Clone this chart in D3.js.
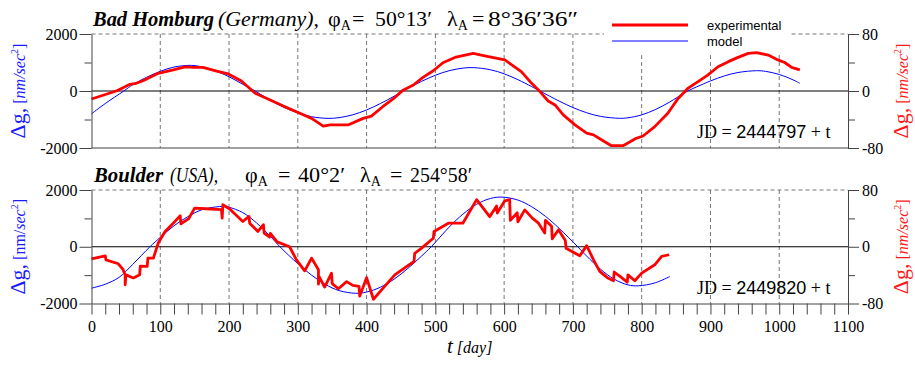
<!DOCTYPE html>
<html lang="en">
<head>
<meta charset="UTF-8">
<title>Gravity variations: Bad Homburg and Boulder</title>
<script src="https://cdn.jsdelivr.net/npm/d3@7"></script>
<style>
  body { margin: 0; background: #fff; }
  svg text { font-family: "Liberation Serif", "Times New Roman", serif; }
  .axis path, .axis line { stroke: #444; }
</style>
</head>
<body>
<script>
// ---- data ----
var xMajor = [0, 100, 200, 300, 400, 500, 600, 700, 800, 900, 1000, 1100];
var gridDays = [100, 200, 300, 400, 500, 600, 700, 800, 900, 1000];
var leftMajor = [-2000, 0, 2000];
var leftMinor = [-1000, 1000];
var rightMajor = [-80, 0, 80];
var rightMinor = [-40, 40];

// Bad Homburg, [day, nm/sec^2]
var homburgExp = [[0,-280],[18,-140],[37,10],[56,235],[65,270],[75,360],[97,620],[119,740],[136,850],[148,830],
  [162,830],[182,700],[199,600],[218,350],[238,-80],[255,-260],[279,-530],[303,-780],[320,-960],[337,-1230],
  [347,-1190],[373,-1190],[395,-960],[407,-880],[423,-560],[439,-270],[453,30],[468,210],[482,480],[497,710],
  [511,990],[530,1190],[555,1320],[577,1210],[601,1090],[625,680],[640,270],[652,-20],[664,-350],[674,-490],
  [686,-840],[703,-1190],[720,-1480],[730,-1540],[742,-1720],[756,-1920],[773,-1920],[792,-1660],[802,-1580],
  [819,-1250],[838,-780],[853,-260],[867,90],[882,330],[896,560],[911,850],[926,1030],[940,1180],[955,1320],
  [967,1345],[984,1260],[996,1110],[1008,1000],[1018,830],[1030,740]];
var homburgModel = [[0,-800],[20,-440],[47,0],[60,220],[80,480],[100,690],[120,840],[145,900],[160,850],
  [180,710],[200,500],[220,235],[238,0],[260,-328],[280,-575],[300,-767],[320,-902],[344,-960],[360,-935],
  [380,-834],[400,-665],[420,-440],[440,-183],[453,0],[480,338],[500,552],[520,712],[540,803],[555,820],
  [580,746],[600,603],[620,398],[640,155],[652,0],[680,-354],[700,-580],[720,-763],[740,-890],[768,-958],
  [780,-940],[800,-838],[820,-650],[840,-397],[867,0],[880,145],[900,353],[920,527],[940,649],[967,712],
  [980,690],[1000,580],[1020,392],[1030,270]];

// Boulder, [day, nm/sec^2]
var boulderExp = [[0,-430],[20,-320],[21,-460],[39,-600],[46,-810],[49,-1000],[49,-1340],[50,-990],[61,-1100],
  [70,-990],[71,-680],[81,-690],[82,-400],[90,-400],[97,130],[107,540],[117,780],[129,1090],[130,810],[141,980],
  [150,1360],[167,1340],[189,1310],[190,1010],[191,1480],[201,1330],[220,890],[229,1070],[230,830],[242,540],
  [250,780],[251,480],[259,340],[260,470],[270,170],[288,0],[298,-460],[310,-850],[320,-400],[330,-810],
  [330,-1320],[331,-1050],[339,-1420],[349,-930],[350,-1300],[359,-1480],[371,-1230],[380,-1360],[389,-1400],
  [390,-1740],[400,-1090],[410,-1850],[424,-1460],[441,-990],[458,-700],[469,-520],[470,-230],[480,-50],
  [497,300],[498,540],[519,830],[540,830],[560,1660],[579,1060],[589,1440],[590,1190],[601,1620],[608,1660],
  [609,930],[619,1200],[620,880],[630,1300],[641,1010],[650,830],[659,480],[660,930],[669,720],[670,280],
  [679,600],[689,220],[690,-50],[698,-160],[710,-320],[720,40],[730,-460],[739,-870],[750,-1090],[759,-1200],
  [760,-890],[770,-1070],[779,-1250],[780,-990],[790,-1200],[800,-930],[819,-635],[829,-341],[840,-282]];
var boulderModel = [[0,-1460],[20,-1320],[40,-1080],[60,-620],[85,0],[100,330],[120,740],[140,1060],[160,1300],
  [180,1400],[192,1420],[200,1392],[220,1203],[240,840],[260,368],[274,0],[300,-595],[320,-1000],[340,-1327],
  [360,-1545],[384,-1640],[400,-1598],[420,-1427],[440,-1143],[460,-764],[480,-327],[494,0],[520,690],
  [540,1148],[560,1497],[580,1702],[597,1750],[620,1645],[640,1412],[660,1073],[680,648],[707,0],[720,-328],
  [740,-790],[760,-1142],[780,-1343],[795,-1377],[820,-1268],[841,-1048]];

// ---- drawing ----
var w = 915, h = 365;
var serif = "'Liberation Serif', 'Times New Roman', serif";
var sans = "'Liberation Sans', Arial, sans-serif";
var svg = d3.select("body").append("svg").attr("width", w).attr("height", h);
var xScale = d3.scaleLinear().domain([0, 1100]).range([91.5, 848]);

var panels = [
  {top: 34, bottom: 148, exp: homburgExp, model: homburgModel, jd: "2444797", unitItalic: true, xTicks: false,
   title: [{x: 93, t: "Bad Homburg", bi: true, len: 121}, {x: 218, t: "(Germany),", i: true, len: 101},
           {x: 328, t: "\u03c6", sub: "A"}, {x: 352, t: "="}, {x: 375, t: "50\u00b013\u2032", len: 57},
           {x: 447, t: "\u03bb", sub: "A"}, {x: 472, t: "="}, {x: 488, t: "8\u00b036\u203236\u2033", len: 90}],
   titleY: 26},
  {top: 190, bottom: 303.5, exp: boulderExp, model: boulderModel, jd: "2449820", unitItalic: false, xTicks: true,
   title: [{x: 94, t: "Boulder", bi: true, len: 69}, {x: 170, t: "(USA),", i: true, len: 48},
           {x: 245, t: "\u03c6", sub: "A"}, {x: 278, t: "="}, {x: 298, t: "40\u00b02\u2032", len: 47},
           {x: 360, t: "\u03bb", sub: "A"}, {x: 390, t: "="}, {x: 410, t: "254\u00b058\u2032", len: 62}],
   titleY: 182}
];

function styleAxis(sel) {
  sel.attr("font-family", serif).attr("font-size", 16);
  sel.selectAll("text").style("font-family", serif).style("font-size", "16px").attr("fill", "#000");
}

panels.forEach(function(p, idx) {
  var yL = d3.scaleLinear().domain([-2000, 2000]).range([p.bottom, p.top]);
  var yR = d3.scaleLinear().domain([-80, 80]).range([p.bottom, p.top]);
  var g = svg.append("g");

  // dashed grid
  g.selectAll(".vgrid").data(gridDays).enter().append("line")
    .attr("x1", function(d) { return xScale(d); }).attr("x2", function(d) { return xScale(d); })
    .attr("y1", p.top).attr("y2", p.bottom)
    .attr("stroke", "#777").attr("stroke-dasharray", "4,3");
  g.append("line")
    .attr("x1", xScale(0)).attr("x2", xScale(1100)).attr("y1", yL(2000)).attr("y2", yL(2000))
    .attr("stroke", "#777").attr("stroke-dasharray", "4,3");

  // legend box hides the grid behind it (top panel only)
  if (idx === 0) {
    g.append("rect").attr("x", 604).attr("y", 12).attr("width", 186).attr("height", 40).attr("fill", "#fff");
    g.append("line").attr("x1", 612).attr("x2", 688).attr("y1", 25).attr("y2", 25)
      .attr("stroke", "#ff0000").attr("stroke-width", 3);
    g.append("line").attr("x1", 612).attr("x2", 688).attr("y1", 41).attr("y2", 41)
      .attr("stroke", "#0000ff").attr("stroke-width", 1);
    g.append("text").text("experimental").attr("x", 707).attr("y", 30)
      .style("font-family", sans).style("font-size", "13px");
    g.append("text").text("model").attr("x", 707).attr("y", 46)
      .style("font-family", sans).style("font-size", "13px");
  }

  // zero line
  g.append("line")
    .attr("x1", xScale(0)).attr("x2", xScale(1100)).attr("y1", yL(0)).attr("y2", yL(0))
    .attr("stroke", "#000").attr("stroke-width", 1.2);

  // curves
  var modelLine = d3.line().x(function(d) { return xScale(d[0]); }).y(function(d) { return yL(d[1]); })
    .curve(d3.curveCatmullRom);
  var expLine = d3.line().x(function(d) { return xScale(d[0]); }).y(function(d) { return yL(d[1]); });
  g.append("path").datum(p.model).attr("d", modelLine)
    .attr("fill", "none").attr("stroke", "#0000ff").attr("stroke-width", 1);
  g.append("path").datum(p.exp).attr("d", expLine)
    .attr("fill", "none").attr("stroke", "#ff0000").attr("stroke-width", 2.8).attr("stroke-linejoin", "round");

  // left axis
  g.append("g").attr("class", "axis").attr("transform", "translate(" + xScale(0) + ",0)")
    .call(d3.axisLeft(yL).tickValues(leftMajor).tickSize(12).tickSizeOuter(0).tickPadding(2)
      .tickFormat(function(d) { return String(d); }))
    .call(styleAxis);
  g.append("g").attr("class", "axis").attr("transform", "translate(" + xScale(0) + ",0)")
    .call(d3.axisLeft(yL).tickValues(leftMinor).tickSize(7).tickFormat(""))
    .select(".domain").remove();

  // right axis
  g.append("g").attr("class", "axis").attr("transform", "translate(" + xScale(1100) + ",0)")
    .call(d3.axisRight(yR).tickValues(rightMajor).tickSize(11).tickSizeOuter(0).tickPadding(3)
      .tickFormat(function(d) { return String(d); }))
    .call(styleAxis);
  g.append("g").attr("class", "axis").attr("transform", "translate(" + xScale(1100) + ",0)")
    .call(d3.axisRight(yR).tickValues(rightMinor).tickSize(7).tickFormat(""))
    .select(".domain").remove();

  // bottom axis
  if (p.xTicks) {
    g.append("g").attr("class", "axis").attr("transform", "translate(0," + p.bottom + ")")
      .call(d3.axisBottom(xScale).tickValues(d3.range(0, 1101, 20)).tickSize(11).tickSizeOuter(0).tickPadding(6)
        .tickFormat(function(d) { return xMajor.indexOf(d) >= 0 ? String(d) : ""; }))
      .call(styleAxis);
  } else {
    g.append("line").attr("x1", xScale(0)).attr("x2", xScale(1100)).attr("y1", p.bottom).attr("y2", p.bottom)
      .attr("stroke", "#444");
  }

  // title
  p.title.forEach(function(s) {
    var t = g.append("text").attr("x", s.x).attr("y", p.titleY).style("font-size", "22px");
    var ts = t.append("tspan").text(s.t)
      .style("font-weight", s.bi ? "bold" : null)
      .style("font-style", (s.bi || s.i) ? "italic" : null);
    if (s.len) ts.attr("textLength", s.len).attr("lengthAdjust", "spacingAndGlyphs");
    if (s.sub) t.append("tspan").text(s.sub).attr("dy", 4).style("font-size", "14px");
  });

  // JD label
  var jd = g.append("text").attr("x", 697).attr("y", p.bottom - 10).style("font-size", "18px");
  jd.append("tspan").text("JD = ");
  jd.append("tspan").text(p.jd).style("font-family", sans);
  jd.append("tspan").text(" + t");

  // y axis titles
  var mid = (p.top + p.bottom) / 2;
  [{x: 25, c: "#1a1aff", italic: p.unitItalic}, {x: 908, c: "#ff1a1a", italic: true}].forEach(function(a) {
    var t = g.append("text").attr("transform", "translate(" + a.x + "," + mid + ") rotate(-90)")
      .attr("text-anchor", "middle").attr("fill", a.c);
    t.append("tspan").text("\u0394g,").style("font-size", "22px");
    t.append("tspan").text("\u00a0[").style("font-size", "16px");
    t.append("tspan").text("nm/").style("font-size", "16px").style("font-style", a.italic ? "italic" : null);
    t.append("tspan").text("sec").style("font-size", "16px").style("font-style", "italic");
    t.append("tspan").text("2").style("font-size", "10px").attr("dy", -7);
    t.append("tspan").text("]").style("font-size", "16px").attr("dy", 7);
  });
});

// x axis title
var xt = svg.append("text").attr("x", 447).attr("y", 353);
xt.append("tspan").text("t").style("font-size", "21px").style("font-style", "italic");
xt.append("tspan").text(" [day]").style("font-size", "16px").style("font-style", "italic");
</script>
</body>
</html>
